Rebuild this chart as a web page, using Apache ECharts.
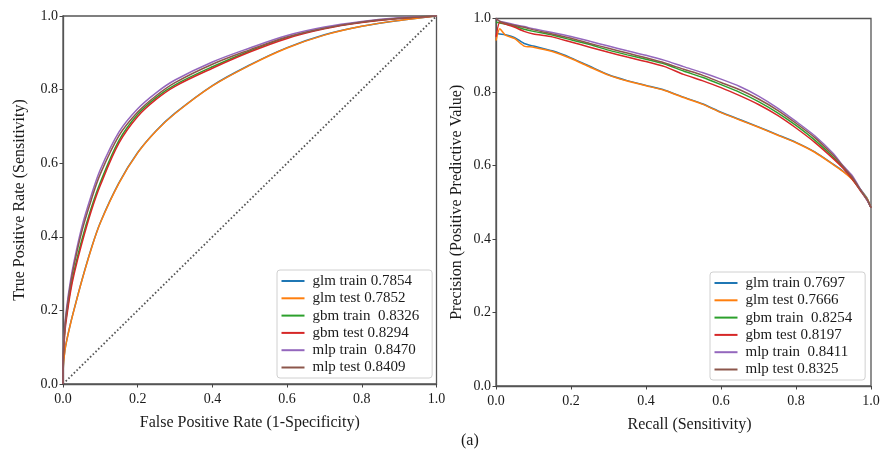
<!DOCTYPE html>
<html>
<head>
<meta charset="utf-8">
<script src="https://cdn.jsdelivr.net/npm/echarts@6/dist/echarts.min.js"></script>
<style>
html,body{margin:0;padding:0;background:#fff;}
#chart{width:888px;height:452px;}
</style>
</head>
<body>
<div id="chart"></div>
<script>
// ---------- ROC data (left panel) ----------
const rocFpr      = [0, 0.001, 0.005, 0.01, 0.02, 0.03, 0.05, 0.075, 0.1, 0.15, 0.2, 0.25, 0.3, 0.4, 0.5, 0.6, 0.7, 0.8, 0.9, 1.0];
const rocGlmTrain = [0, 0.05, 0.091, 0.119, 0.164, 0.204, 0.28, 0.366, 0.439, 0.547, 0.629, 0.689, 0.736, 0.811, 0.867, 0.914, 0.949, 0.972, 0.988, 1];
const rocGlmTest  = [0, 0.05, 0.09, 0.118, 0.163, 0.203, 0.279, 0.365, 0.438, 0.546, 0.628, 0.688, 0.735, 0.81, 0.866, 0.913, 0.948, 0.972, 0.988, 1];
const rocGbmTrain = [0, 0.08, 0.15, 0.19, 0.258, 0.308, 0.39, 0.476, 0.548, 0.662, 0.733, 0.779, 0.813, 0.862, 0.905, 0.942, 0.967, 0.983, 0.994, 1];
const rocGbmTest  = [0, 0.07, 0.14, 0.183, 0.25, 0.3, 0.38, 0.468, 0.54, 0.655, 0.727, 0.774, 0.809, 0.858, 0.902, 0.939, 0.965, 0.982, 0.993, 1];
const rocMlpTrain = [0, 0.09, 0.16, 0.21, 0.28, 0.335, 0.425, 0.51, 0.583, 0.685, 0.748, 0.792, 0.826, 0.875, 0.913, 0.947, 0.970, 0.985, 0.995, 1];
const rocMlpTest  = [0, 0.085, 0.155, 0.2, 0.27, 0.325, 0.413, 0.498, 0.571, 0.675, 0.739, 0.784, 0.819, 0.869, 0.908, 0.943, 0.967, 0.984, 0.994, 1];
const rocNames = ['glm train 0.7854', 'glm test 0.7852', 'gbm train  0.8326', 'gbm test 0.8294', 'mlp train  0.8470', 'mlp test 0.8409'];
const chanceX = [0, 1];
const chanceY = [0, 1];

// ---------- Precision-Recall data (right panel) ----------
const prRecall   = [0, 0.01, 0.025, 0.05, 0.075, 0.1, 0.15, 0.2, 0.25, 0.3, 0.35, 0.4, 0.45, 0.5, 0.55, 0.6, 0.65, 0.7, 0.75, 0.8, 0.85, 0.9, 0.925, 0.95, 0.975, 0.99, 1.0];
const prGlmTrain = [0.96, 0.958, 0.956, 0.948, 0.932, 0.925, 0.912, 0.893, 0.870, 0.847, 0.831, 0.818, 0.805, 0.786, 0.768, 0.745, 0.725, 0.705, 0.684, 0.663, 0.637, 0.603, 0.585, 0.563, 0.531, 0.51, 0.485];
const prGlmTest  = [0.94, 0.972, 0.955, 0.945, 0.925, 0.922, 0.910, 0.891, 0.868, 0.846, 0.830, 0.817, 0.804, 0.785, 0.767, 0.744, 0.724, 0.704, 0.683, 0.662, 0.636, 0.602, 0.584, 0.562, 0.530, 0.509, 0.485];
const prGbmTrain = [0.99, 0.988, 0.985, 0.979, 0.971, 0.965, 0.955, 0.942, 0.929, 0.914, 0.901, 0.889, 0.876, 0.857, 0.840, 0.820, 0.799, 0.774, 0.744, 0.709, 0.669, 0.622, 0.595, 0.564, 0.528, 0.506, 0.485];
const prGbmTest  = [0.95, 0.99, 0.985, 0.976, 0.965, 0.958, 0.950, 0.936, 0.922, 0.908, 0.895, 0.883, 0.869, 0.848, 0.831, 0.812, 0.790, 0.766, 0.737, 0.702, 0.663, 0.618, 0.593, 0.563, 0.527, 0.505, 0.485];
const prMlpTrain = [1.0, 0.993, 0.989, 0.983, 0.978, 0.972, 0.962, 0.951, 0.938, 0.925, 0.912, 0.900, 0.886, 0.869, 0.853, 0.835, 0.815, 0.789, 0.757, 0.720, 0.681, 0.632, 0.600, 0.572, 0.530, 0.505, 0.485];
const prMlpTest  = [1.0, 0.992, 0.987, 0.981, 0.976, 0.969, 0.958, 0.946, 0.932, 0.919, 0.906, 0.893, 0.879, 0.862, 0.846, 0.826, 0.806, 0.781, 0.751, 0.715, 0.676, 0.627, 0.598, 0.568, 0.529, 0.507, 0.485];
const prNames = ['glm train 0.7697', 'glm test 0.7666', 'gbm train  0.8254', 'gbm test 0.8197', 'mlp train  0.8411', 'mlp test 0.8325'];

const axisTicks = [0, 0.2, 0.4, 0.6, 0.8, 1.0];
const colors = ['#1f77b4', '#ff7f0e', '#2ca02c', '#d62728', '#9467bd', '#8c564b'];
const FONT = "'Liberation Serif', 'Times New Roman', serif";

function pairs(xs, ys) { return xs.map((x, i) => [x, ys[i]]); }

function lineSeries(name, xs, ys, color, idx, sm) {
  return {
    type: 'line', name: name, xAxisIndex: idx, yAxisIndex: idx,
    data: pairs(xs, ys), symbol: 'none', showSymbol: false, smooth: sm,
    lineStyle: { width: 1.5, color: color }, itemStyle: { color: color },
    emphasis: { disabled: true }, silent: true
  };
}

function axisLabelCfg(margin) {
  return { fontFamily: FONT, fontSize: 14, color: '#1a1a1a', margin: margin, formatter: v => v.toFixed(1) };
}

function valueAxis(idx, name, nameGap, extra) {
  return Object.assign({
    type: 'value', gridIndex: idx, min: 0, max: 1, interval: 0.2,
    name: name, nameLocation: 'middle', nameGap: nameGap,
    nameTextStyle: { fontFamily: FONT, fontSize: 16, color: '#1a1a1a' },
    axisLine: { show: true, lineStyle: { color: '#555', width: 1.3 } },
    axisTick: { show: true, length: 3.5, lineStyle: { color: '#444', width: 1 } },
    axisLabel: axisLabelCfg(5),
    splitLine: { show: false }
  }, extra || {});
}

function legendCfg(left, top, names) {
  return {
    orient: 'vertical', left: left, top: top, data: names,
    icon: 'rect', itemWidth: 23, itemHeight: 2, itemGap: 2.3,
    selectedMode: false,
    textStyle: { fontFamily: FONT, fontSize: 15, color: '#1a1a1a', lineHeight: 15, padding: [0, 0, 0, 3] },
    backgroundColor: 'rgba(255,255,255,0.85)', borderColor: '#d0d0d0', borderWidth: 1, borderRadius: 3,
    padding: [3.5, 13, 3, 4.5]
  };
}

const rocSets = [rocGlmTrain, rocGlmTest, rocGbmTrain, rocGbmTest, rocMlpTrain, rocMlpTest];
const prSets = [prGlmTrain, prGlmTest, prGbmTrain, prGbmTest, prMlpTrain, prMlpTest];

const series = [];
series.push({
  type: 'line', name: 'chance', xAxisIndex: 0, yAxisIndex: 0,
  data: pairs(chanceX, chanceY), symbol: 'none',
  lineStyle: { width: 1.8, color: '#555', type: [1.6, 2.2] }, silent: true
});
rocSets.forEach((ys, i) => series.push(lineSeries(rocNames[i], rocFpr, ys, colors[i], 0, 0.35)));
prSets.forEach((ys, i) => series.push(lineSeries(prNames[i], prRecall, ys, colors[i], 1, 0.2)));

const chart = echarts.init(document.getElementById('chart'), null, { renderer: 'canvas' });
chart.setOption({
  animation: false,
  backgroundColor: '#fff',
  grid: [
    { left: 63, top: 16, width: 373.5, height: 368, show: true, borderColor: '#555', borderWidth: 1.3, containLabel: false },
    { left: 496, top: 18.5, width: 375, height: 367.5, show: true, borderColor: '#555', borderWidth: 1.3, containLabel: false }
  ],
  xAxis: [
    valueAxis(0, 'False Positive Rate (1-Specificity)', 31, { axisLabel: axisLabelCfg(8) }),
    valueAxis(1, 'Recall (Sensitivity)', 31, {
      axisLabel: axisLabelCfg(8),
      nameTextStyle: { fontFamily: FONT, fontSize: 16, color: '#1a1a1a', padding: [0, 0, 0, 12] }
    })
  ],
  yAxis: [
    valueAxis(0, 'True Positive Rate (Sensitivity)', 35),
    valueAxis(1, 'Precision (Positive Predictive Value)', 31)
  ],
  legend: [legendCfg(277, 270, rocNames), legendCfg(710, 272, prNames)],
  graphic: [{
    type: 'text', left: 461, top: 433,
    style: { text: '(a)', font: "16px 'Liberation Serif', 'Times New Roman', serif", fill: '#1a1a1a' }
  }],
  series: series
});
</script>
</body>
</html>
